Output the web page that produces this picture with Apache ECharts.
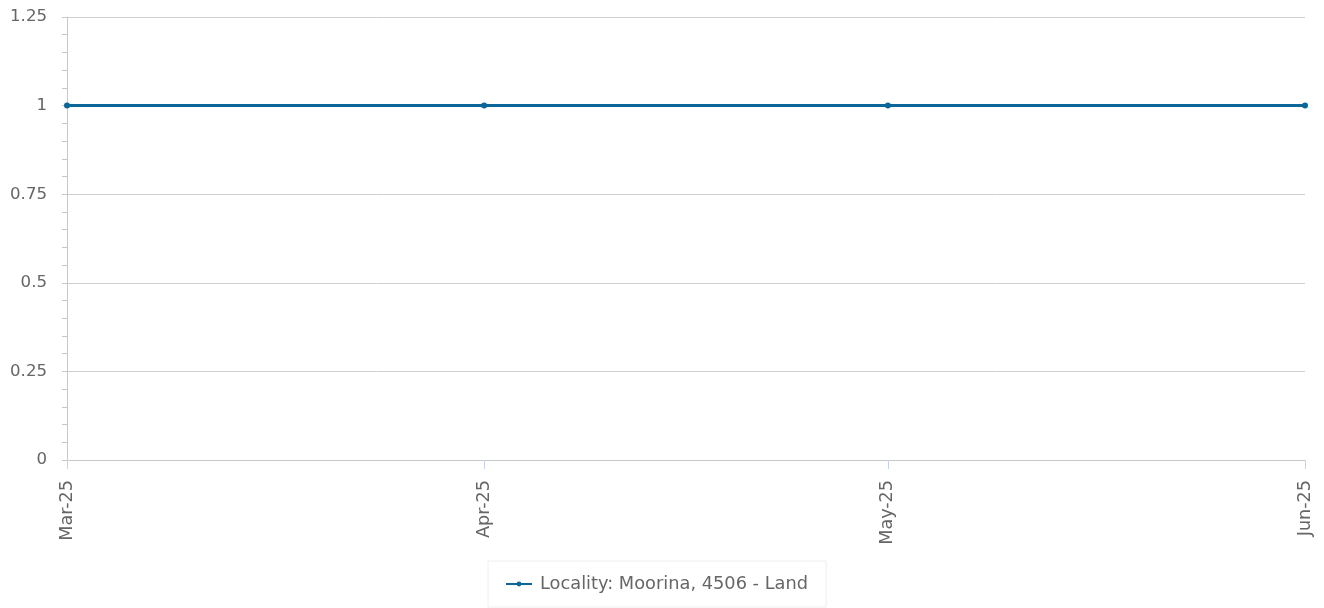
<!DOCTYPE html>
<html>
<head>
<meta charset="utf-8">
<script src="https://cdn.jsdelivr.net/npm/echarts@6/dist/echarts.min.js"></script>
<style>
html,body{margin:0;padding:0;background:#fff;}
#c{width:1324px;height:608px;}
</style>
</head>
<body>
<div id="c"></div>
<script>
var dates = ['2025-03-01', '2025-04-01', '2025-05-01', '2025-06-01'];
var values = [1, 1, 1, 1];
var seriesName = 'Locality: Moorina, 4506 - Land';
var monthNames = ['Jan','Feb','Mar','Apr','May','Jun','Jul','Aug','Sep','Oct','Nov','Dec'];

var ts = dates.map(function (d) { var p = d.split('-'); return Date.UTC(+p[0], +p[1] - 1, +p[2]); });
function fmt(v) {
  var d = new Date(v);
  return monthNames[d.getUTCMonth()] + '-' + String(d.getUTCFullYear()).slice(2);
}

var chart = echarts.init(document.getElementById('c'));
chart.setOption({
  animation: false,
  textStyle: { fontFamily: 'DejaVu Sans' },
  grid: { left: 67, right: 19, top: 17, bottom: 148, containLabel: false },
  legend: {
    top: 561,
    left: 488,
    padding: [13, 18, 13, 17],
    borderColor: '#eeeeee',
    borderWidth: 1,
    itemWidth: 26,
    itemHeight: 6,
    textStyle: { color: '#666', fontSize: 17.8, fontFamily: 'DejaVu Sans', lineHeight: 20, padding: [0, 0, 0, 3] },
    data: [seriesName]
  },
  xAxis: {
    type: 'value',
    min: ts[0],
    max: ts[ts.length - 1],
    axisLine: { show: true, lineStyle: { color: '#c8c8c8' } },
    axisTick: { show: true, length: 9, lineStyle: { color: '#c8d4ea' }, customValues: ts },
    splitLine: { show: false },
    axisLabel: {
      customValues: ts,
      rotate: 90,
      color: '#666',
      fontSize: 17.6,
      margin: 20,
      formatter: function (v) { return fmt(v); }
    }
  },
  yAxis: {
    type: 'value',
    min: 0,
    max: 1.25,
    interval: 0.25,
    axisLine: { show: true, lineStyle: { color: '#c8c8c8' } },
    axisTick: { show: true, length: 5, lineStyle: { color: '#c8c8c8' } },
    minorTick: { show: true, splitNumber: 5, length: 5, lineStyle: { color: '#c8c8c8' } },
    splitLine: { show: true, lineStyle: { color: '#d0d0d0' } },
    axisLabel: { color: '#666', fontSize: 16.6, margin: 20 }
  },
  series: [{
    name: seriesName,
    type: 'line',
    data: ts.map(function (t, i) { return [t, values[i]]; }),
    symbol: 'circle',
    symbolSize: 6,
    showSymbol: true,
    lineStyle: { color: '#0b6699', width: 3 },
    itemStyle: { color: '#0b6699' }
  }]
});
</script>
</body>
</html>
